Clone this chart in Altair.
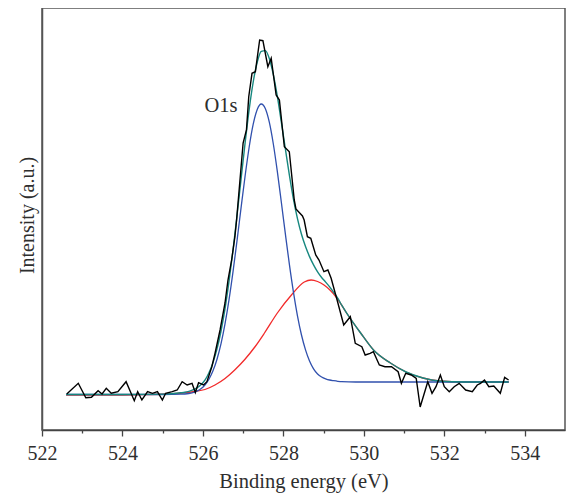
import altair as alt
import pandas as pd

# ---- data (x: binding energy eV, y: intensity a.u.) ----
data_e = [522.615, 522.902, 523.089, 523.229, 523.394, 523.493, 523.598, 523.721, 523.886, 524.090,
          524.294, 524.378, 524.483, 524.624, 524.746, 524.869, 524.992, 525.073, 525.238, 525.361,
          525.484, 525.607, 525.730, 525.811, 525.892, 526.015, 526.099, 526.222, 526.303, 526.426,
          526.549, 526.623, 526.714, 526.795, 526.837, 526.999, 527.082, 527.139, 527.220, 527.304,
          527.410, 527.491, 527.614, 527.697, 527.736, 527.820, 527.901, 528.024, 528.147, 528.270,
          528.312, 528.474, 528.516, 528.597, 528.681, 528.804, 528.885, 529.008, 529.106, 529.187,
          529.335, 529.500, 529.664, 529.787, 529.950, 530.033, 530.156, 530.237, 530.385, 530.525,
          530.687, 530.852, 530.933, 531.041, 531.179, 531.302, 531.400, 531.589, 531.695, 531.793,
          531.902, 532.000, 532.123, 532.246, 532.369, 532.531, 532.696, 532.819, 532.900, 532.999,
          533.107, 533.230, 533.392, 533.500, 533.598]
data_i = [36, 46.7, 32.3, 32.7, 39.3, 36, 41.7, 36.7, 38.3, 48.3,
          29.3, 38.3, 30, 38.3, 36.7, 38.3, 30, 36.7, 38.3, 40,
          48.3, 45, 46.7, 37.5, 47.3, 45, 48.3, 63.3, 77, 100,
          127, 150, 170, 193.3, 210, 287, 300, 333.3, 356.7, 358.3,
          390, 389.3, 363.3, 371.7, 360, 335, 330, 283.3, 278.3, 230,
          221, 214, 210, 193.3, 191.7, 175, 170, 158.3, 160, 151.7,
          130, 105, 113.3, 86.7, 83.3, 75, 76.7, 78.3, 65, 63.3,
          63.3, 58.3, 46.7, 56.7, 55, 51.7, 23, 48.3, 36.7, 43.3,
          55, 43.3, 38.3, 43.3, 46.7, 40, 38.3, 45, 46.7, 50,
          43.3, 44, 36.7, 52.7, 50]

blue_e = [522.6, 524.0, 525.0, 525.45, 525.55, 525.65, 525.75, 525.85, 525.95, 526.05,
          526.15, 526.25, 526.35, 526.45, 526.55, 526.65, 526.75, 526.85, 526.95, 527.05,
          527.15, 527.25, 527.35, 527.45, 527.55, 527.65, 527.75, 527.85, 527.95, 528.05,
          528.15, 528.25, 528.35, 528.45, 528.55, 528.65, 528.75, 528.85, 528.95, 529.05,
          529.15, 529.25, 529.35, 529.45, 529.8, 533.6]
blue_i = [35.5, 35.5, 35.5, 35.8, 36.0, 36.5, 37.4, 38.8, 41.2, 45.0,
          50.8, 59.2, 70.8, 86.3, 106.3, 130.6, 158.8, 190.2, 222.8, 254.5,
          283.0, 305.8, 320.5, 326.0, 321.5, 307.8, 286.0, 258.4, 227.5, 195.8,
          165.3, 137.8, 114.2, 95.0, 80.1, 69.0, 61.1, 56.0, 53.0, 51.2,
          50.0, 49.3, 48.7, 48.3, 48.0, 48.0]

red_e = [522.6, 524.0, 524.5, 525.07, 525.5, 525.81, 526.05, 526.3, 526.55, 526.79,
         527.04, 527.29, 527.53, 527.85, 528.2, 528.52, 528.69, 528.85, 529.01, 529.17,
         529.33, 529.57, 529.92, 530.24, 530.66, 531.05, 531.47, 531.88, 532.5, 533.6]
red_i = [35, 35, 35.3, 36, 37, 38.5, 40.5, 45, 51.5, 60,
         70.5, 83, 97, 117, 135, 148, 150, 148.5, 145, 139.5,
         132, 117, 97, 80, 67, 58, 52, 49, 48, 48]

green_e = [522.6, 524.0, 525.0, 525.45, 525.55, 525.65, 525.75, 525.85, 525.95, 526.05,
           526.15, 526.25, 526.35, 526.45, 526.55, 526.65, 526.75, 526.85, 526.95, 527.05,
           527.15, 527.25, 527.35, 527.45, 527.55, 527.65, 527.75, 527.85, 527.95, 528.05,
           528.15, 528.25, 528.35, 528.45, 528.55, 528.65, 528.75, 528.85, 528.95, 529.05,
           529.15, 529.25, 529.35, 529.45, 529.57, 529.92, 530.24, 530.66, 531.05, 531.47,
           531.88, 532.5, 533.6]
green_i = [35.5, 35.5, 35.9, 37.2, 37.7, 38.7, 40.1, 42.1, 45.3, 49.9,
           57.3, 67.4, 81.1, 99.0, 121.4, 149.0, 180.5, 215.4, 251.7, 287.6,
           320.7, 348.0, 367.7, 378.7, 379.4, 371.5, 355.4, 333.6, 307.7, 281.0,
           254.7, 231.0, 211.4, 195.7, 183.4, 173.4, 165.1, 158.1, 152.5, 147.9,
           143.1, 137.7, 131.9, 124.8, 117.2, 97, 80, 67, 58, 52,
           49, 48, 48]

label_text = ["O1s"]
label_e = [526.45]
label_i = [324]

x_ticks = list(range(522, 535))

# ---- build table ----
frames = []
for name, xs, ys in [("red", red_e, red_i), ("blue", blue_e, blue_i),
                     ("green", green_e, green_i), ("data", data_e, data_i)]:
    frames.append(pd.DataFrame({"energy": xs, "intensity": ys, "series": name}))
df = pd.concat(frames, ignore_index=True)
df_label = pd.DataFrame({"energy": label_e, "intensity": label_i, "text": label_text})

FONT = "Liberation Serif"
TXT = "#2e2e2e"

x_enc = alt.X("energy:Q",
              scale=alt.Scale(domain=[522, 535], nice=False, zero=False),
              axis=alt.Axis(values=x_ticks, format="d",
                            labelExpr="datum.value % 2 === 0 ? datum.label : ''",
                            tickSize={"condition": {"test": "datum.value % 2 === 0", "value": 6}, "value": 3},
                            tickColor="#444", tickWidth=1.3,
                            domainColor="#444", domainWidth=1.5,
                            labelFont=FONT, labelFontSize=20, labelColor=TXT, labelPadding=7,
                            labelFlush=False, labelOverlap=False,
                            title="Binding energy (eV)", titleFont=FONT, titleFontSize=20.5,
                            titleFontWeight="normal", titleColor=TXT,
                            titleY=57, titleBaseline="alphabetic", grid=False))
y_enc = alt.Y("intensity:Q",
              scale=alt.Scale(domain=[0, 422], nice=False, zero=False),
              axis=alt.Axis(labels=False, ticks=False, grid=False,
                            domainColor="#555", domainWidth=1.5,
                            title="Intensity (a.u.)", titleFont=FONT, titleFontSize=20,
                            titleFontWeight="normal", titleColor=TXT,
                            titleX=-9, titleY=207, titleBaseline="alphabetic"))

base = alt.Chart(df).encode(x=x_enc, y=y_enc, order="energy:Q")

red = base.transform_filter("datum.series == 'red'").mark_line(
    color="#f22a2a", strokeWidth=1.3, interpolate="monotone")
blue = base.transform_filter("datum.series == 'blue'").mark_line(
    color="#3050ad", strokeWidth=1.3, interpolate="monotone")
green = base.transform_filter("datum.series == 'green'").mark_line(
    color="#16877f", strokeWidth=1.4, interpolate="monotone")
black = base.transform_filter("datum.series == 'data'").mark_line(
    color="#000000", strokeWidth=1.4)

label = alt.Chart(df_label).mark_text(
    font=FONT, fontSize=20.5, color=TXT, align="center", baseline="middle"
).encode(x="energy:Q", y="intensity:Q", text="text:N")

chart = alt.layer(red, blue, green, black, label).properties(
    width=523, height=422,
    autosize=alt.AutoSizeParams(type="none"),
    padding={"left": 34, "top": 0, "right": 1, "bottom": 63},
).configure_view(stroke="#555", strokeWidth=1.5)

chart.save("out.html", embed_options={"renderer": "svg", "actions": False})
